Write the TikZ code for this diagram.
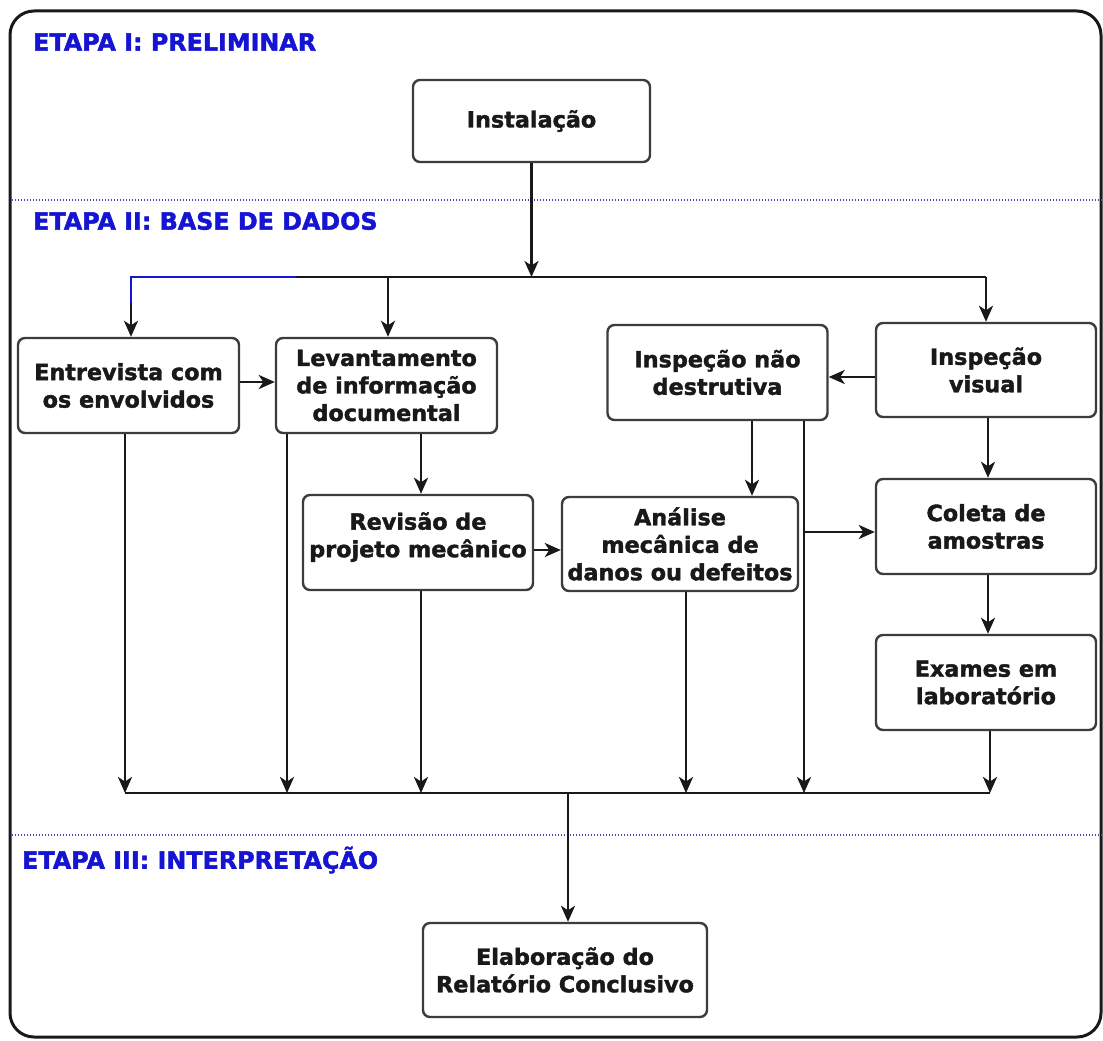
\documentclass[tikz,border=0pt]{standalone}
\usepackage{fontspec}
\setmainfont{DejaVu Sans}[BoldFeatures={FakeBold=1.8}]
\usetikzlibrary{arrows.meta}
\definecolor{etapablue}{RGB}{20,20,210}
\definecolor{dotblue}{RGB}{70,70,190}
\definecolor{boxgray}{RGB}{60,60,60}
\tikzset{
  box/.style={draw=boxgray, line width=2.4pt, rounded corners=7pt, fill=white,
    align=center, inner sep=0pt, text=black!90,
    font=\fontsize{22.3}{27.5}\selectfont\bfseries},
  conn/.style={line width=2.8pt, black!90},
  arr/.style={conn, -{Stealth[length=16pt,width=14pt,inset=4.5pt]}},
  etapa/.style={anchor=west, inner sep=0pt, text=etapablue,
    font=\fontsize{23.8}{26}\selectfont\bfseries},
  sep/.style={dotblue, line width=1.8pt, dash pattern=on 1.4pt off 1.6pt},
}
\begin{document}
\begin{tikzpicture}[x=1pt,y=-1pt]
\useasboundingbox (0,0) rectangle (1103,1041);
% frame
\draw[line width=3pt, black!90, rounded corners=24pt] (10,11) rectangle (1101,1037);
% separators
\coordinate (s1a) at (12,200); \coordinate (s1b) at (1103,200);
\coordinate (s2a) at (12,835); \coordinate (s2b) at (1103,835);
\draw[sep] (s1a) -- (s1b);
\draw[sep] (s2a) -- (s2b);
% stage labels
\node[etapa] (e1) at (33,42) {ETAPA I: PRELIMINAR};
\node[etapa] (e2) at (33,221) {ETAPA II: BASE DE DADOS};
\node[etapa] (e3) at (22,860) {ETAPA III: INTERPRETAÇÃO};
% boxes
\node[box, minimum width=237pt, minimum height=82pt] (inst) at (531.5,121) {Instalação};
\node[box, minimum width=221pt, minimum height=95pt] (entr) at (128.5,385.5) {Entrevista com\\os envolvidos};
\node[box, minimum width=221pt, minimum height=95pt] (lev) at (386.5,385.5) {Levantamento\\de informação\\documental};
\node[box, minimum width=220pt, minimum height=95pt] (ind) at (717.5,372.5) {Inspeção não\\destrutiva};
\node[box, minimum width=220pt, minimum height=94pt] (ivis) at (986,370) {Inspeção\\visual};
\node[box, minimum width=230pt, minimum height=95pt] (rev) at (418,542.5) {Revisão de\\projeto mecânico\\[-12pt]\mbox{}};
\node[box, minimum width=236pt, minimum height=94pt] (ana) at (680,544) {Análise\\mecânica de\\danos ou defeitos};
\node[box, minimum width=220pt, minimum height=95pt] (col) at (986,526.5) {Coleta de\\amostras};
\node[box, minimum width=220pt, minimum height=95pt] (exa) at (986,682.5) {Exames em\\laboratório};
\node[box, minimum width=284pt, minimum height=94pt] (ela) at (565,970) {Elaboração do\\Relatório Conclusivo};
% helper coordinates
\coordinate (tbL) at (131,277);
\coordinate (tbM) at (388,277);
\coordinate (tbR) at (986,277);
\coordinate (tbBlue) at (296,277);
\coordinate (bbL) at (125,793);
\coordinate (bbR) at (990,793);
\coordinate (bbM) at (568,793);
\coordinate (h382) at (0,382);
\coordinate (h377) at (0,377);
\coordinate (h550) at (0,550);
\coordinate (vLev) at (421,0);
\coordinate (vLevD) at (287,0);
\coordinate (vInd) at (752,0);
\coordinate (vIndD) at (804,0);
\coordinate (vAna) at (686,0);
\coordinate (vVis) at (988,0);
\coordinate (br) at (804,532);
% top bus
\draw[arr] (inst.south) -- (inst.south |- tbL);
\draw[conn] (tbL) -- (tbR);
\draw[arr] (tbL) -- (tbL |- entr.north);
\draw[arr] (tbM) -- (tbM |- lev.north);
\draw[arr] (tbR) -- (tbR |- ivis.north);
\draw[line width=2.8pt, etapablue] (tbBlue) -- (tbL) -- ++(0,26);
% horizontal arrows
\draw[arr] (entr.east |- h382) -- (lev.west |- h382);
\draw[arr] (ivis.west |- h377) -- (ind.east |- h377);
\draw[arr] (rev.east |- h550) -- (ana.west |- h550);
\draw[arr] (br) -- (col.west |- br);
% vertical arrows between boxes
\draw[arr] (vLev |- lev.south) -- (vLev |- rev.north);
\draw[arr] (vInd |- ind.south) -- (vInd |- ana.north);
\draw[arr] (vVis |- ivis.south) -- (vVis |- col.north);
\draw[arr] (vVis |- col.south) -- (vVis |- exa.north);
% down to bottom bus
\draw[arr] (bbL |- entr.south) -- (bbL);
\draw[arr] (vLevD |- lev.south) -- (vLevD |- bbL);
\draw[arr] (vLev |- rev.south) -- (vLev |- bbL);
\draw[arr] (vAna |- ana.south) -- (vAna |- bbL);
\draw[arr] (vIndD |- ind.south) -- (vIndD |- bbL);
\draw[arr] (bbR |- exa.south) -- (bbR);
\draw[conn] (bbL) -- (bbR);
\draw[arr] (bbM) -- (bbM |- ela.north);
\end{tikzpicture}
\end{document}
